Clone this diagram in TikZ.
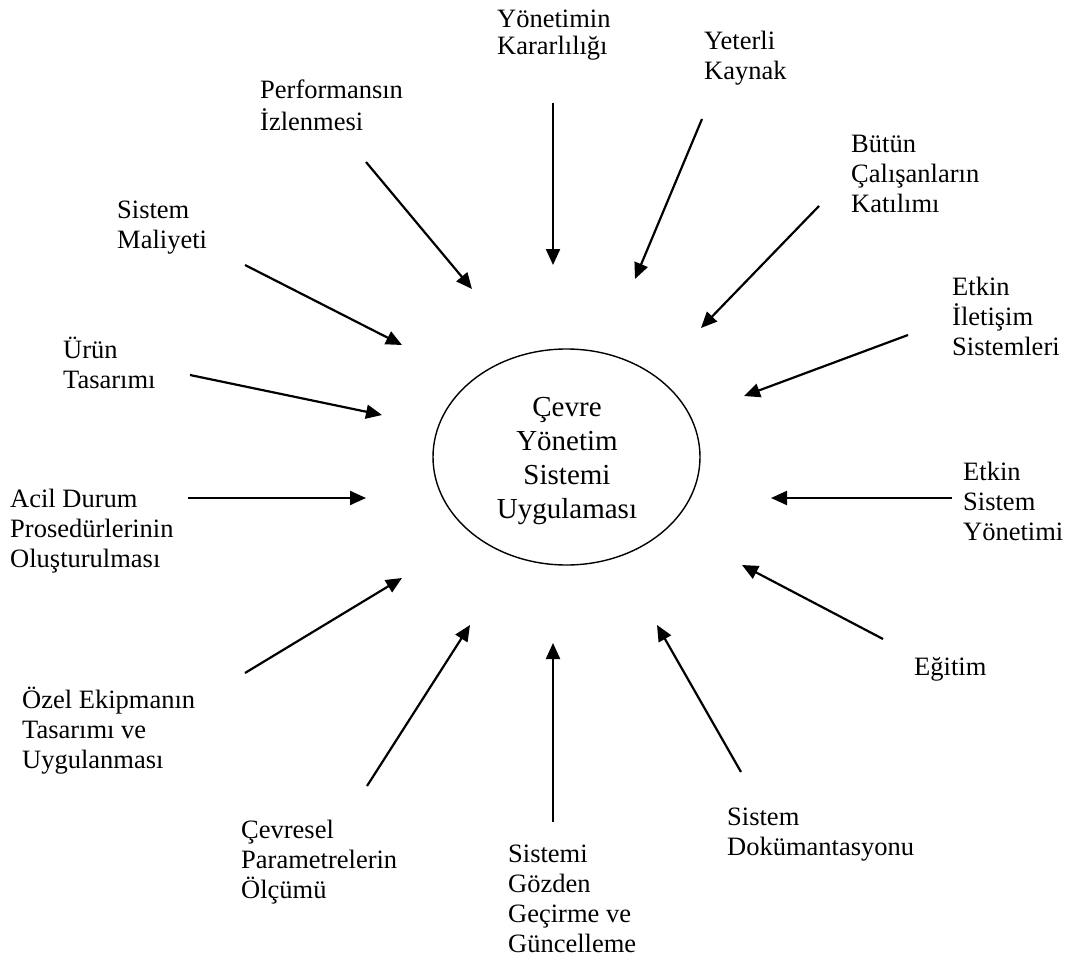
\documentclass[tikz,border=0pt]{standalone}
\usepackage{fontspec}
\setmainfont{Liberation Serif}
\usetikzlibrary{arrows.meta}
\begin{document}
\begin{tikzpicture}[x=1pt,y=-1pt,
  % a label is placed by the baseline of its last line
  lbl/.style={anchor=base west,inner sep=0pt,align=left,
    font=\fontsize{26.5}{30}\selectfont},
  feed/.style={line width=2.2pt,-{Triangle[length=16pt,width=14pt]}}]
\useasboundingbox (0,0) rectangle (1071,963);

% central ellipse and its text
\draw[line width=1.4pt] (566.5,457) ellipse [x radius=133.5, y radius=108];
\node (hub) [anchor=base,inner sep=0pt,align=center,
  font=\fontsize{29}{33.7}\selectfont] at (567,518)
  {Çevre\\Yönetim\\Sistemi\\Uygulaması};

% surrounding factors
\node[lbl] (yon) at (497,55) {Yönetimin\\[-3pt]Kararlılığı};
\node[lbl] (yet) at (704,80) {Yeterli\\Kaynak};
\node[lbl] (but) at (851,212) {Bütün\\Çalışanların\\Katılımı};
\node[lbl] (ilet) at (952,355) {Etkin\\İletişim\\Sistemleri};
\node[lbl] (esy) at (963,540) {Etkin\\Sistem\\Yönetimi};
\node[lbl] (egi) at (914,675) {Eğitim};
\node[lbl] (dok) at (727,855) {Sistem\\Dokümantasyonu};
\node[lbl] (goz) at (508,952) {Sistemi\\Gözden\\Geçirme ve\\Güncelleme};
\node[lbl] (cev) at (241,898) {Çevresel\\Parametrelerin\\Ölçümü};
\node[lbl] (oze) at (22,768) {Özel Ekipmanın\\Tasarımı ve\\Uygulanması};
\node[lbl] (aci) at (10,567) {Acil Durum\\Prosedürlerinin\\Oluşturulması};
\node[lbl] (uru) at (63,388) {Ürün\\Tasarımı};
\node[lbl] (mal) at (117,248) {Sistem\\Maliyeti};
\node[lbl] (per) at (260,131) {Performansın\\[2pt]İzlenmesi};

% arrow ends
\coordinate (s1) at (553,103);  \coordinate (t1) at (553,265);
\coordinate (s2) at (702,119);  \coordinate (t2) at (635,279);
\coordinate (s3) at (819,206);  \coordinate (t3) at (701,328);
\coordinate (s4) at (908,335);  \coordinate (t4) at (744,396);
\coordinate (s5) at (952,498);  \coordinate (t5) at (771,498);
\coordinate (s6) at (883,639);  \coordinate (t6) at (742,565);
\coordinate (s7) at (741,772);  \coordinate (t7) at (657,625);
\coordinate (s8) at (553,822);  \coordinate (t8) at (553,643);
\coordinate (s9) at (367,786);  \coordinate (t9) at (470,625);
\coordinate (s10) at (245,673); \coordinate (t10) at (402,578);
\coordinate (s11) at (188,498); \coordinate (t11) at (366,498);
\coordinate (s12) at (190,375); \coordinate (t12) at (382,415);
\coordinate (s13) at (245,265); \coordinate (t13) at (402,345);
\coordinate (s14) at (366,162); \coordinate (t14) at (472,289);

\foreach \i in {1,...,14} {\draw[feed] (s\i) -- (t\i);}
\end{tikzpicture}
\end{document}
